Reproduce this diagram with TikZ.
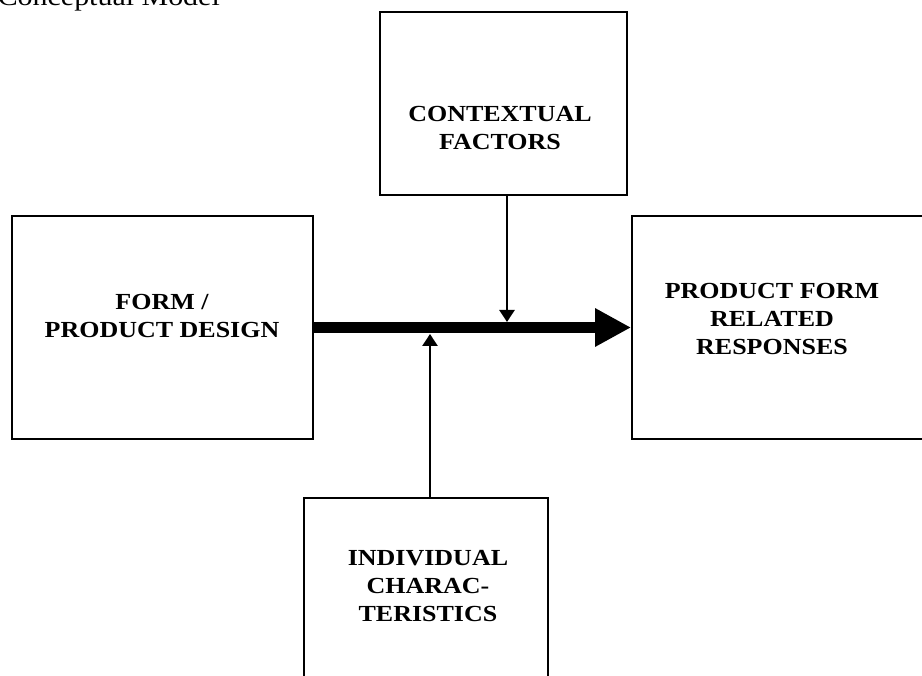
\documentclass[tikz,border=0pt]{standalone}
\usepackage{fontspec}
\setmainfont{Liberation Serif}
\usetikzlibrary{arrows.meta,positioning}
% box texts are a little wider than tall in the scan
\newcommand{\boxtext}[1]{\scalebox{1.13}[1]{\begin{tabular}{@{}c@{}}#1\end{tabular}}}

\begin{document}
\begin{tikzpicture}[line cap=butt,line join=miter,x=1pt,y=-1pt,
  >={Triangle[length=12pt,width=15pt]},
  block/.style={draw,line width=1.8pt,inner sep=0pt},
  boxlabel/.style={inner sep=0pt,font=\bfseries\fontsize{23}{28}\selectfont},
  thin/.style={->,line width=2.6pt}]
\useasboundingbox (0,0) rectangle (922,676);
\clip (0,0) rectangle (922,676);
\node[anchor=base east,inner sep=0pt,font=\fontsize{26.5}{30}\selectfont] (title) at (220,6) {\scalebox{1.13}[1]{Conceptual Model}};
\node[block,minimum width=247pt,minimum height=183pt] (ctx) at (503.5,103.5) {};
\node[block,minimum width=301pt,minimum height=223pt] (form) at (162.5,327.5) {};
\node[block,minimum width=301pt,minimum height=223pt] (resp) at (782.5,327.5) {};
\node[block,minimum width=244pt,minimum height=183pt] (ind) at (426,589.5) {};
\node[boxlabel] (ctxtext) at (500,130) {\boxtext{CONTEXTUAL\\FACTORS}};
\node[boxlabel] (formtext) at (162,318) {\boxtext{FORM /\\PRODUCT DESIGN}};
\node[boxlabel] (resptext) at (772,321) {\boxtext{PRODUCT FORM\\RELATED\\RESPONSES}};
\node[boxlabel] (indtext) at (428,588) {\boxtext{INDIVIDUAL\\CHARAC-\\TERISTICS}};
\coordinate (down) at (507,322);
\coordinate (up) at (430,334);
\draw[-{Triangle[length=36pt,width=36pt]},line width=11pt] (form.east) -- (resp.west);
\draw[thin] (ctx.south -| down) -- (down);
\draw[thin] (ind.north -| up) -- (up);
\end{tikzpicture}
\end{document}
